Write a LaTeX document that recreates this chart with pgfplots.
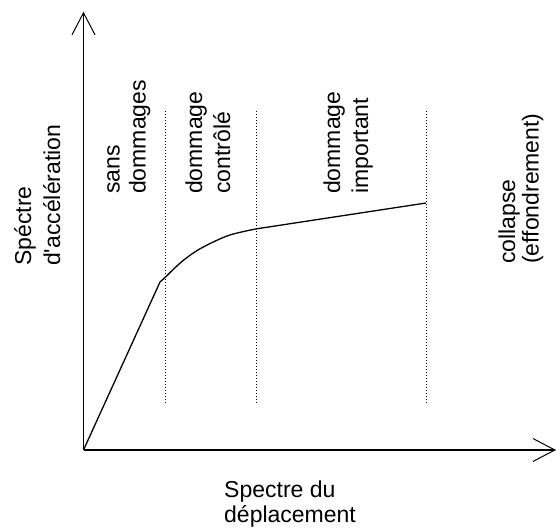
\documentclass[border=0pt]{standalone}
\usepackage{fontspec}
\setmainfont{Liberation Sans}
\newfontfamily\labelfont{Liberation Sans}
\usepackage{pgfplots}
\pgfplotsset{compat=1.18}
\usetikzlibrary{arrows.meta}

\begin{document}
\begin{tikzpicture}[every node/.style={font=\labelfont\fontsize{23}{27}\selectfont, inner sep=0pt}]
\path[use as bounding box] (0,0) rectangle (557pt,-532pt);
\begin{axis}[
    at={(83.5pt,-450pt)}, anchor=south west,
    scale only axis, width=472.5pt, height=438.3pt,
    xmin=0, xmax=472.5, ymin=0, ymax=438.3,
    axis lines=left,
    axis line style={line width=1.4pt, -{Straight Barb[length=22pt,width=23pt,line width=1pt]}},
    xtick=\empty, ytick=\empty,
    clip=false]
  % courbe de capacite : branche elastique
  \addplot[black, line width=1.3pt] coordinates {(0,0) (76.5,168)};
  % coude et branche plastique
  \addplot[black, line width=1.3pt, smooth, tension=0.5] coordinates {
    (76.5,168) (81.5,172.5) (98.2,188.3) (116.5,201.2) (144.8,214.5) (173.2,221.2)
  };
  \addplot[black, line width=1.3pt] coordinates {(173.2,221.2) (342.5,247)};
  % limites des zones
  \addplot[black, dotted, line width=1pt] coordinates {(81.5,47) (81.5,340)};
  \addplot[black, dotted, line width=1pt] coordinates {(172.5,47) (172.5,340)};
  \addplot[black, dotted, line width=1pt] coordinates {(343,47) (343,340)};
\end{axis}
% titres des axes
\node[rotate=90, anchor=base west] at (31pt,-266pt) {Spéctre};
\node[rotate=90, anchor=base west] at (60pt,-266pt) {d'accélération};
\node[anchor=base west] at (224pt,-497pt) {Spectre du};
\node[anchor=base west] at (224pt,-522pt) {déplacement};
% zones
\node[rotate=90, anchor=base west] at (119.5pt,-194pt) {sans};
\node[rotate=90, anchor=base west] at (145.5pt,-194pt) {dommages};
\node[rotate=90, anchor=base west] at (202pt,-194pt) {dommage};
\node[rotate=90, anchor=base west] at (230pt,-194pt) {contrôlé};
\node[rotate=90, anchor=base west] at (340pt,-194pt) {dommage};
\node[rotate=90, anchor=base west] at (368pt,-194pt) {important};
\node[rotate=90, anchor=base west] at (515pt,-264pt) {collapse};
\node[rotate=90, anchor=base west] at (538.5pt,-264pt) {(effondrement)};
\end{tikzpicture}
\end{document}
